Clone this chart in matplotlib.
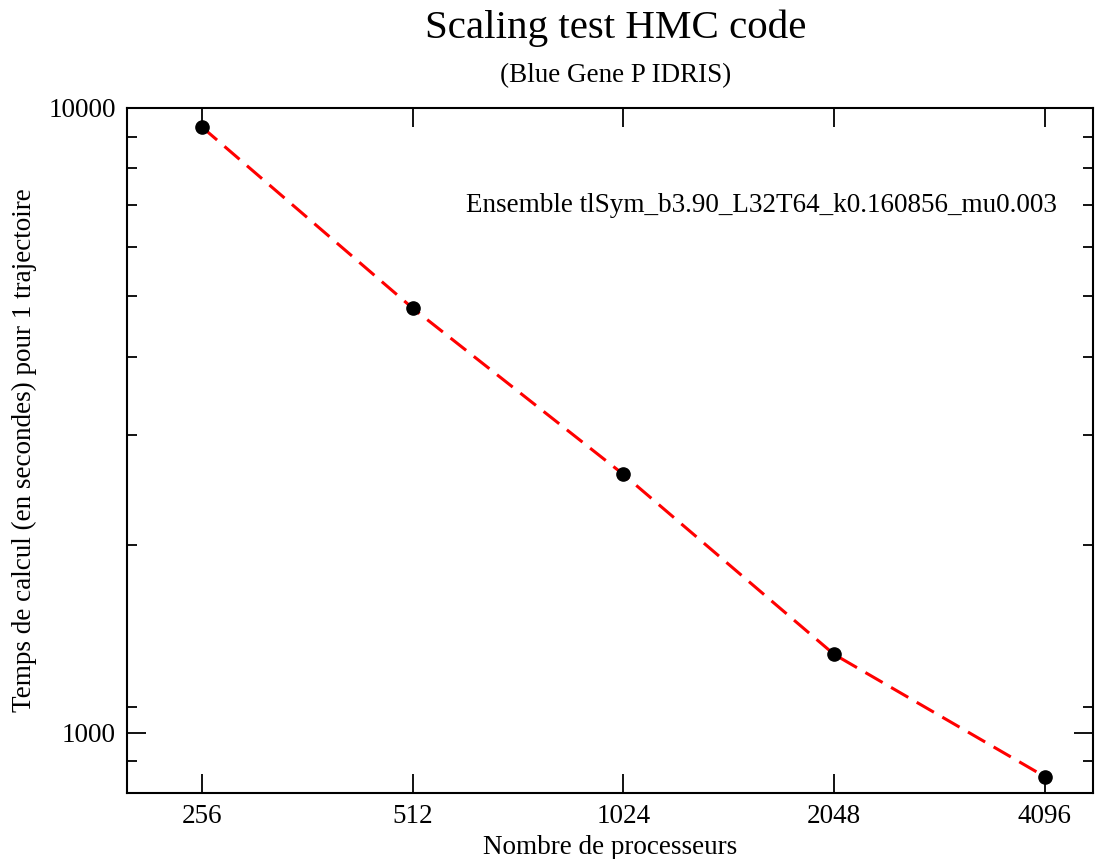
import matplotlib
matplotlib.use("Agg")
import matplotlib.pyplot as plt
from matplotlib.ticker import FixedLocator, NullFormatter, NullLocator

# données
procs = [256, 512, 1024, 2048, 4096]
temps = [9320, 4780, 2590, 1334, 850]
xtick_labels = ["256", "512", "1024", "2048", "4096"]
y_major = [1000, 10000]
y_minor = [900, 1100, 2000, 3000, 4000, 5000, 6000, 7000, 8000, 9000]

plt.rcParams["font.family"] = ["Liberation Serif", "DejaVu Serif"]

fig = plt.figure(figsize=(11.05, 8.59), dpi=100)
ax = fig.add_axes([0.1149, 0.0768, 0.8742, 0.7975])

ax.plot(procs, temps, color="red", lw=2.2, ls=(0, (6.5, 3.2)), zorder=2)
ax.plot(procs, temps, "o", color="black", ms=9.5, zorder=3)

ax.set_xscale("log", base=2)
ax.set_yscale("log")
ax.set_xlim(200, 4800)
ax.set_ylim(800, 10000)

ax.xaxis.set_major_locator(FixedLocator(procs))
ax.set_xticklabels(xtick_labels)
ax.xaxis.set_minor_locator(NullLocator())
ax.yaxis.set_major_locator(FixedLocator(y_major))
ax.set_yticklabels([str(v) for v in y_major])
ax.yaxis.set_minor_locator(FixedLocator(y_minor))
ax.yaxis.set_minor_formatter(NullFormatter())

ax.tick_params(which="both", direction="in", top=True, right=True,
               width=1.3, labelsize=19.5, color="black")
ax.tick_params(which="major", length=14, pad=8)
ax.tick_params(which="minor", length=7)
for s in ax.spines.values():
    s.set_linewidth(1.5)

ax.set_xlabel("Nombre de processeurs", fontsize=19.5, labelpad=4)
ax.set_ylabel("Temps de calcul (en secondes) pour 1 trajectoire", fontsize=19.5, labelpad=8)

fig.text(0.557, 0.967, "Scaling test HMC code", ha="center", va="center", fontsize=29.5)
fig.text(0.557, 0.912, "(Blue Gene P IDRIS)", ha="center", va="center", fontsize=19.5)

ax.text(0.351, 0.858, "Ensemble tlSym_b3.90_L32T64_k0.160856_mu0.003",
        transform=ax.transAxes, fontsize=19.5, va="center", ha="left")

fig.savefig("out.png", dpi=100)
